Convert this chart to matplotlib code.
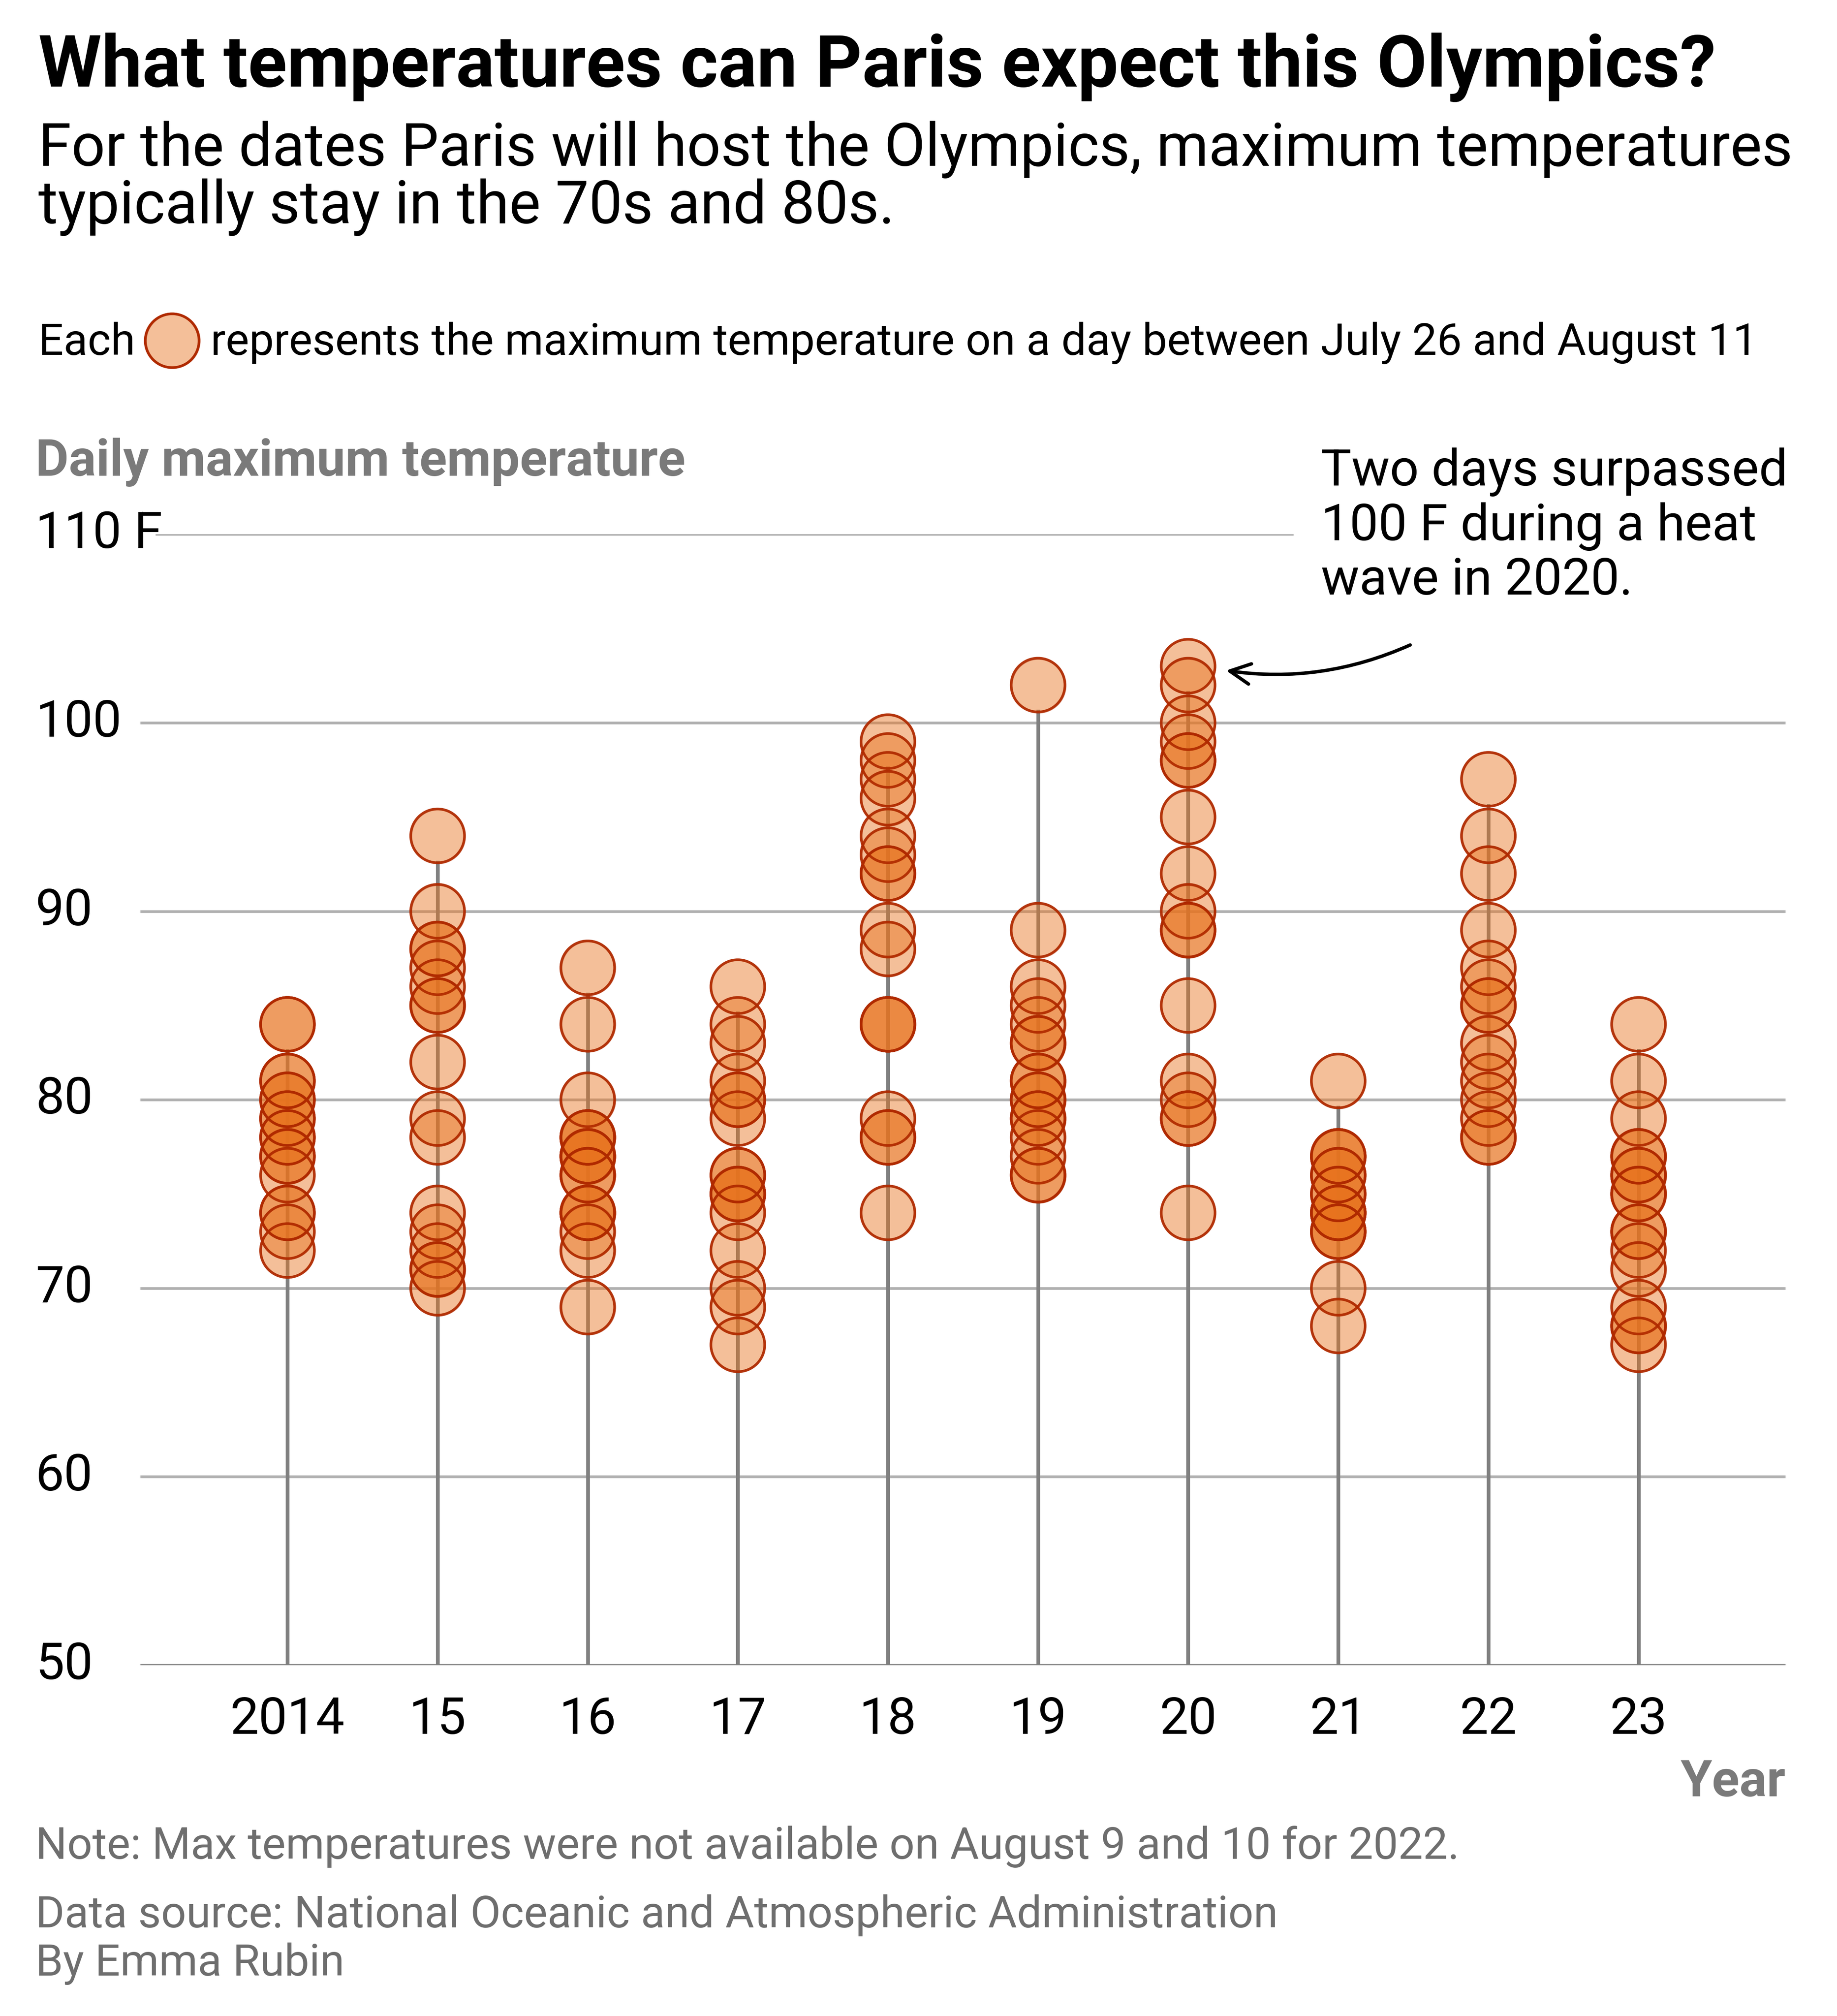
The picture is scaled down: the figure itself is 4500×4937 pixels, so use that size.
import matplotlib
matplotlib.use("Agg")
import matplotlib.pyplot as plt
import matplotlib.transforms as mtrans

plt.rcParams['font.family'] = ['Roboto', 'DejaVu Sans']

years = ["2014", "15", "16", "17", "18", "19", "20", "21", "22", "23"]
t2014 = [84, 84, 81, 81, 80, 80, 79, 79, 78, 78, 77, 77, 76, 74, 74, 73, 72]
t2015 = [94, 90, 88, 88, 87, 86, 85, 85, 82, 79, 78, 74, 73, 72, 71, 71, 70]
t2016 = [87, 84, 80, 78, 78, 78, 77, 77, 77, 76, 76, 74, 74, 74, 73, 72, 69]
t2017 = [86, 84, 83, 81, 80, 80, 79, 76, 76, 75, 75, 75, 74, 72, 70, 69, 67]
t2018 = [99, 98, 97, 96, 94, 93, 92, 92, 89, 88, 84, 84, 84, 79, 78, 78, 74]
t2019 = [102, 89, 86, 85, 84, 83, 83, 81, 81, 80, 80, 79, 79, 78, 77, 76, 76]
t2020 = [103, 102, 100, 99, 98, 98, 95, 92, 90, 89, 89, 85, 81, 80, 79, 79, 74]
t2021 = [81, 77, 77, 77, 76, 76, 75, 75, 74, 74, 74, 74, 73, 73, 73, 70, 68]
t2022 = [97, 94, 92, 89, 87, 86, 85, 85, 83, 82, 81, 80, 79, 78, 78]
t2023 = [84, 81, 79, 77, 77, 76, 76, 75, 75, 73, 73, 72, 71, 69, 68, 68, 67]
temps = [t2014, t2015, t2016, t2017, t2018, t2019, t2020, t2021, t2022, t2023]
yticks = [50, 60, 70, 80, 90, 100, 110]
ytick_labels = ["50", "60", "70", "80", "90", "100", "110 F"]

fill = "#e8731e"
edge = "#b02a00"

fig = plt.figure(figsize=(15, 4937/300), dpi=300)
ax = fig.add_axes([0.0764, 0.174, 0.972-0.0764, 0.735-0.174])
ax.set_xlim(-0.98, 9.98)
ax.set_ylim(50, 110)
for s in ax.spines.values():
    s.set_visible(False)
ax.set_xticks(range(len(years)))
ax.set_xticklabels(years, fontsize=30)
ax.tick_params(axis='x', length=0, pad=18)
ax.set_yticks([])
trans = mtrans.blended_transform_factory(fig.transFigure, ax.transData)
for v, lab in zip(yticks, ytick_labels):
    ax.axhline(v, color="#b0b0b0", lw=1.6, zorder=0,
               xmin=0.0 if v != 110 else 0.01, xmax=1.0 if v != 110 else 0.70)
    ax.text(0.0194, v, lab, transform=trans, fontsize=30, va='center', ha='left')
ax.axhline(50, color="#888888", lw=1.6, zorder=0)

for i, t in enumerate(temps):
    ax.plot([i, i], [50, max(t) - 1.4], color="#808080", lw=2.2, zorder=1)
    ax.scatter([i]*len(t), t, s=1000, facecolor=fill, edgecolor=edge,
               linewidth=1.5, alpha=0.45, zorder=2)
    ax.scatter([i]*len(t), t, s=1000, facecolor='none', edgecolor=edge,
               linewidth=1.5, alpha=0.9, zorder=3)

ax.annotate("", xy=(6.23, 102.8), xytext=(7.50, 104.2),
            arrowprops=dict(arrowstyle="->", color="black", lw=2,
                            connectionstyle="arc3,rad=-0.15", mutation_scale=30))
fig.text(0.719, 0.778, "Two days surpassed\n100 F during a heat\nwave in 2020.",
         fontsize=30, va='top', ha='left', linespacing=1.15)

fig.text(0.0208, 0.957, "What temperatures can Paris expect this Olympics?",
         fontsize=42.5, fontweight='bold', va='baseline')
fig.text(0.0208, 0.9177, "For the dates Paris will host the Olympics, maximum temperatures",
         fontsize=35, va='baseline')
fig.text(0.0208, 0.8892, "typically stay in the 70s and 80s.", fontsize=35, va='baseline')
fig.text(0.0208, 0.824, "Each", fontsize=26, va='baseline')
lax = fig.add_axes([0.0737, 0.821, 0.04, 0.02])
lax.set_xlim(0, 1); lax.set_ylim(0, 1); lax.axis('off')
lax.scatter([0.5], [0.5], s=1000, facecolor=fill, edgecolor=edge, linewidth=1.5,
            alpha=0.45, clip_on=False)
lax.scatter([0.5], [0.5], s=1000, facecolor='none', edgecolor=edge, linewidth=1.5,
            clip_on=False)
fig.text(0.1146, 0.824, "represents the maximum temperature on a day between July 26 and August 11",
         fontsize=26, va='baseline')
fig.text(0.0194, 0.764, "Daily maximum temperature", fontsize=30, fontweight='bold',
         color="#7a7a7a", va='baseline')
fig.text(0.972, 0.109, "Year", fontsize=30, fontweight='bold', color="#7a7a7a",
         va='baseline', ha='right')
fig.text(0.0194, 0.078, "Note: Max temperatures were not available on August 9 and 10 for 2022.",
         fontsize=26, color="#6e6e6e", va='baseline')
fig.text(0.0194, 0.044, "Data source: National Oceanic and Atmospheric Administration",
         fontsize=26, color="#6e6e6e", va='baseline')
fig.text(0.0194, 0.020, "By Emma Rubin", fontsize=26, color="#6e6e6e", va='baseline')

fig.savefig("out.png", dpi=300, facecolor='white')
